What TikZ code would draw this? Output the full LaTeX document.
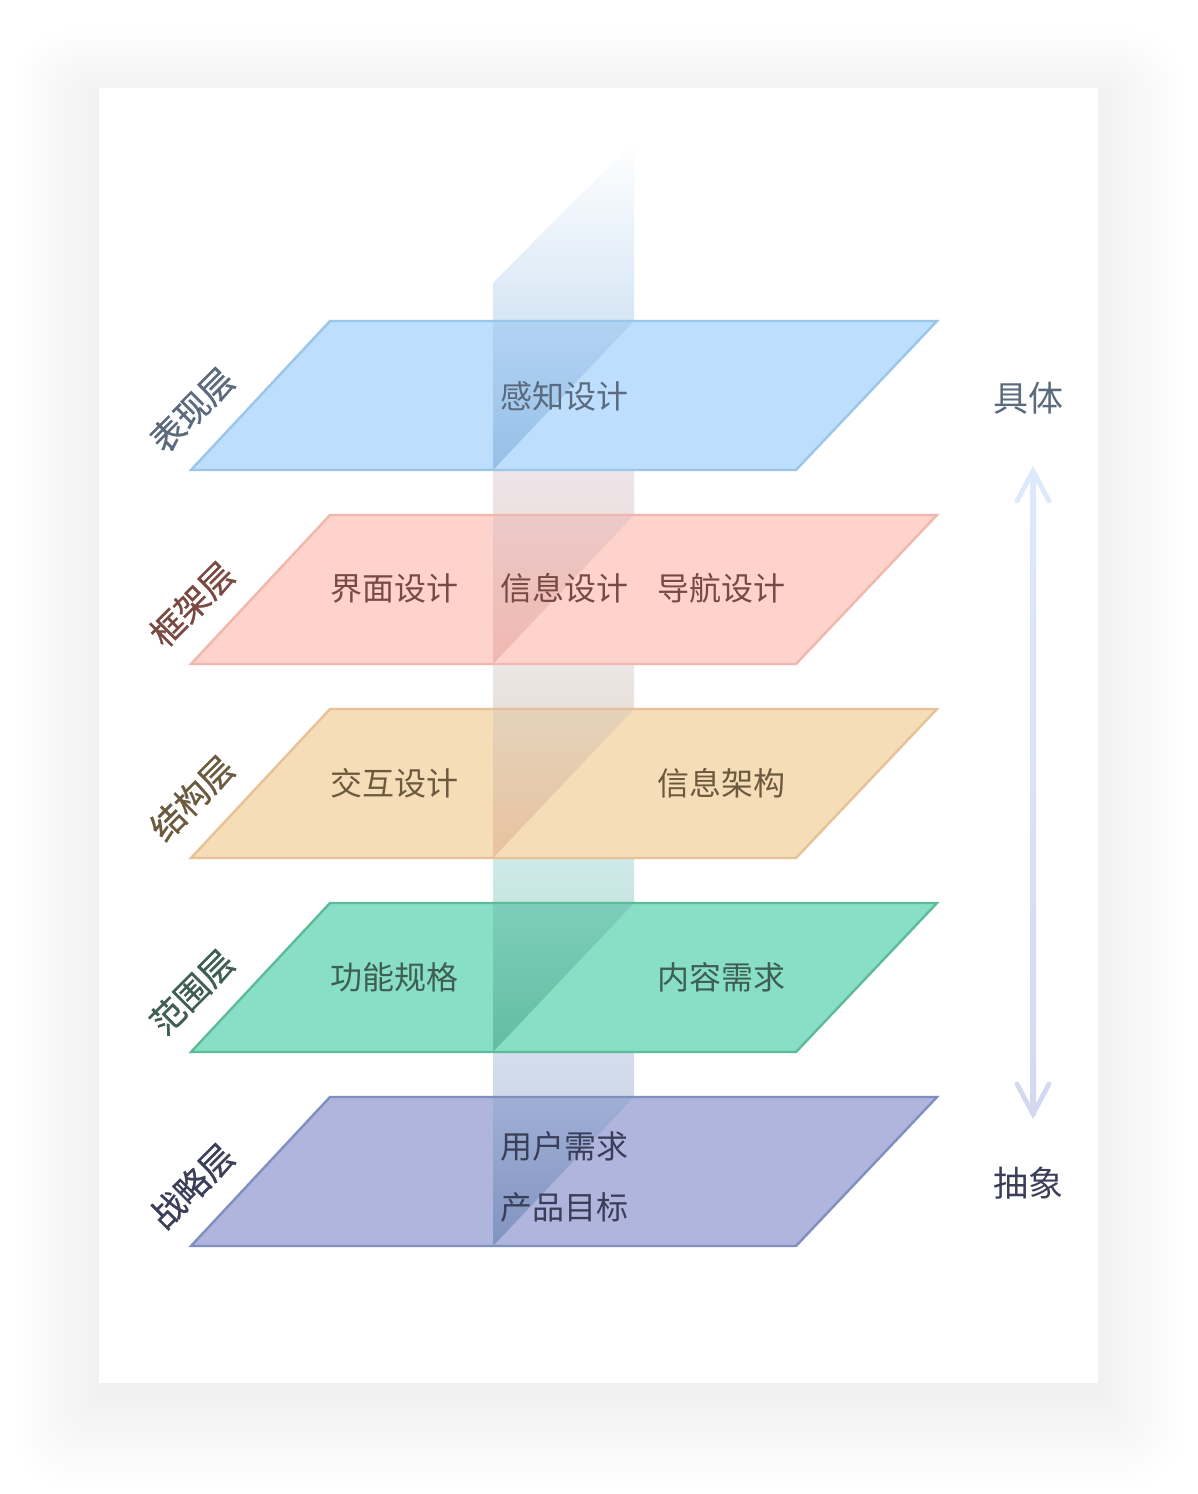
\documentclass[tikz,border=0pt]{standalone}
\usepackage{fontspec}
\setmainfont{Noto Sans CJK SC}
\newfontfamily\layerfont[FakeBold=0.7]{Noto Sans CJK SC}
\usetikzlibrary{arrows.meta}

\definecolor{bluefill}{HTML}{BDDFFD}
\definecolor{blueline}{HTML}{9CC5EA}
\definecolor{bluetxt}{HTML}{5B6B7D}
\definecolor{pinkfill}{HTML}{FDD3CC}
\definecolor{pinkline}{HTML}{F2B7AC}
\definecolor{pinktxt}{HTML}{7A4A42}
\definecolor{sandfill}{HTML}{F5DDB8}
\definecolor{sandline}{HTML}{E8C196}
\definecolor{sandtxt}{HTML}{6C5A3F}
\definecolor{greenfill}{HTML}{88DFC6}
\definecolor{greenline}{HTML}{5DBB9A}
\definecolor{greentxt}{HTML}{3E5E51}
\definecolor{purpfill}{HTML}{AFB5DD}
\definecolor{purpline}{HTML}{7F8FC0}
\definecolor{purptxt}{HTML}{3B3E58}
\definecolor{arrowtop}{HTML}{DCEAFB}
\definecolor{arrowmid}{HTML}{FBFBFD}
\definecolor{arrowbot}{HTML}{D5D9F0}

\begin{document}
\begin{tikzpicture}[x=0.5pt,y=-0.5pt,
    plane/.style={line width=1.2pt,line join=miter},
    item/.style={font=\fontsize{16}{18}\selectfont},
    layer/.style={font=\layerfont\fontsize{17}{19}\selectfont,rotate=45,inner sep=0pt},
    side/.style={font=\fontsize{17.5}{20}\selectfont},
    headline/.style={line width=2.4pt,line cap=round,line join=miter}]
\useasboundingbox (0,0) rectangle (1198,1494);

% card with soft shadow
\foreach \s in {1,...,14}
  \fill[black,opacity=0.0032,rounded corners={2*\s pt}] ({99-6*\s},{100-5*\s}) rectangle ({1098+6*\s},{1395+6.5*\s});
\fill[white] (99,88) rectangle (1098,1383);

% vertical band, parts seen between the planes
\shade[top color=white,bottom color={rgb,255:red,214;green,230;blue,245}] (493,283) -- (634,141) -- (634,322) -- (493,322) -- cycle;
\shade[top color={rgb,255:red,238;green,228;blue,232},bottom color={rgb,255:red,236;green,224;blue,226}] (493,469) rectangle (634,516);
\shade[top color={rgb,255:red,236;green,231;blue,229},bottom color={rgb,255:red,232;green,224;blue,218}] (493,663) rectangle (634,710);
\shade[top color={rgb,255:red,206;green,233;blue,233},bottom color={rgb,255:red,200;green,229;blue,226}] (493,857) rectangle (634,904);
\shade[top color={rgb,255:red,212;green,221;blue,236},bottom color={rgb,255:red,206;green,216;blue,234}] (493,1051) rectangle (634,1098);

% surface plane
\fill[bluefill] (191,470) -- (330,321) -- (937,321) -- (796,470) -- cycle;
\shade[top color={rgb,255:red,178;green,211;blue,243},bottom color={rgb,255:red,150;green,192;blue,232}] (493,470) -- (493,321) -- (634,321) -- cycle;
\draw[plane,blueline] (191,470) -- (330,321) -- (937,321) -- (796,470) -- cycle;

% skeleton plane
\fill[pinkfill] (191,664) -- (330,515) -- (937,515) -- (796,664) -- cycle;
\shade[top color={rgb,255:red,236;green,202;blue,201},bottom color={rgb,255:red,240;green,183;blue,175}] (493,664) -- (493,515) -- (634,515) -- cycle;
\draw[plane,pinkline] (191,664) -- (330,515) -- (937,515) -- (796,664) -- cycle;

% structure plane
\fill[sandfill] (191,858) -- (330,709) -- (937,709) -- (796,858) -- cycle;
\shade[top color={rgb,255:red,228;green,211;blue,186},bottom color={rgb,255:red,232;green,194;blue,160}] (493,858) -- (493,709) -- (634,709) -- cycle;
\draw[plane,sandline] (191,858) -- (330,709) -- (937,709) -- (796,858) -- cycle;

% scope plane
\fill[greenfill] (191,1052) -- (330,903) -- (937,903) -- (796,1052) -- cycle;
\shade[top color={rgb,255:red,126;green,205;blue,188},bottom color={rgb,255:red,98;green,190;blue,160}] (493,1052) -- (493,903) -- (634,903) -- cycle;
\draw[plane,greenline] (191,1052) -- (330,903) -- (937,903) -- (796,1052) -- cycle;

% strategy plane
\fill[purpfill] (191,1246) -- (330,1097) -- (937,1097) -- (796,1246) -- cycle;
\shade[top color={rgb,255:red,160;green,175;blue,214},bottom color={rgb,255:red,128;green,148;blue,192}] (493,1246) -- (493,1097) -- (634,1097) -- cycle;
\draw[plane,purpline] (191,1246) -- (330,1097) -- (937,1097) -- (796,1246) -- cycle;

% plane contents
\node[item,text=bluetxt] at (564,396) (perception) {感知设计};
\node[item,text=pinktxt] at (394,588) (interface) {界面设计};
\node[item,text=pinktxt] at (564,588) (infodesign) {信息设计};
\node[item,text=pinktxt] at (721,588) (navigation) {导航设计};
\node[item,text=sandtxt] at (394,783) (interaction) {交互设计};
\node[item,text=sandtxt] at (721,783) (infoarch) {信息架构};
\node[item,text=greentxt] at (394,977) (function) {功能规格};
\node[item,text=greentxt] at (721,977) (content) {内容需求};
\node[item,text=purptxt] at (564,1146) (userneed) {用户需求};
\node[item,text=purptxt] at (564,1207) (productgoal) {产品目标};

% layer names
\node[layer,text=bluetxt] at (192,410) (surface) {表现层};
\node[layer,text=pinktxt] at (192,604) (skeleton) {框架层};
\node[layer,text=sandtxt] at (192,798) (structure) {结构层};
\node[layer,text=greentxt] at (192,992) (scope) {范围层};
\node[layer,text=purptxt] at (192,1186) (strategy) {战略层};

% concrete / abstract
\node[side,text=bluetxt] at (1028,398) (concrete) {具体};
\node[side,text=purptxt] at (1028,1183) (abstract) {抽象};
\coordinate (uptip) at (1033,471);
\coordinate (downtip) at (1033,1114);
\shade[top color=arrowtop,middle color=arrowmid,bottom color=arrowbot] ([xshift=-1.5]uptip) rectangle ([xshift=1.5]downtip);
\draw[headline,arrowtop] (uptip) ++(-16,30) -- (uptip) -- ++(16,30);
\draw[headline,arrowbot] (downtip) ++(-16,-30) -- (downtip) -- ++(16,-30);
\end{tikzpicture}
\end{document}
